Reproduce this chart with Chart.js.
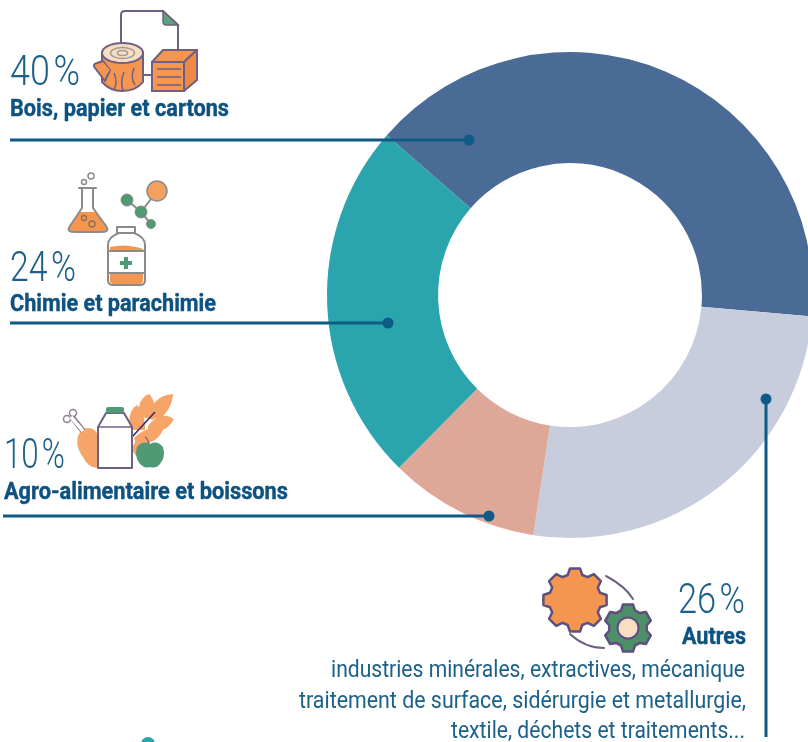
<!DOCTYPE html>
<html lang="fr">
<head>
<meta charset="utf-8">
<title>Répartition</title>
<script src="https://cdn.jsdelivr.net/npm/chart.js@4"></script>
<style>
  html, body { margin: 0; padding: 0; background: #fff; overflow: hidden; }
  #wrap { position: relative; width: 808px; height: 742px; overflow: hidden; }
  #chart { position: absolute; left: 0; top: 0; }
  #overlay { position: absolute; left: 0; top: 0; }
  .pct { font-family: Roboto, sans-serif; font-weight: 300; font-size: 42px; fill: #1c6189; word-spacing: -6px; }
  .name { font-family: Roboto, sans-serif; font-weight: 700; font-size: 23px; fill: #0e5280; stroke: #0e5280; stroke-width: 0.4px; }
  .desc { font-family: Roboto, sans-serif; font-weight: 400; font-size: 23px; fill: #1c6189; }
  .lead { stroke: #0f5a86; stroke-width: 3; fill: none; }
  .dot { fill: #0f5a86; }
  .ic { stroke: #6f5f82; stroke-width: 2; fill: none; stroke-linejoin: round; stroke-linecap: round; }
  .gr { stroke: #8b8b8b; stroke-width: 2; fill: none; stroke-linejoin: round; stroke-linecap: round; }
</style>
</head>
<body>
<div id="wrap">
  <canvas id="chart" width="820" height="742"></canvas>
  <svg id="overlay" width="808" height="742" xmlns="http://www.w3.org/2000/svg">
    <g id="labels"></g>

    <!-- leader lines -->
    <path class="lead" d="M10 140H469"/><circle class="dot" cx="469" cy="140" r="5.5"/>
    <path class="lead" d="M10 323H388"/><circle class="dot" cx="388" cy="323" r="5.5"/>
    <path class="lead" d="M3 516H489"/><circle class="dot" cx="489" cy="516" r="5.5"/>
    <path class="lead" d="M766 399V737"/><circle class="dot" cx="766" cy="399" r="5.5"/>
    <circle cx="148" cy="744" r="7" fill="#2aa5ae"/>

    <!-- bois -->
    <g>
      <path class="ic" d="M121 43V15Q121 11 125 11H163L178 25V50"/>
      <path d="M163 11L178 25H166Q163 25 163 21Z" fill="#5aa57c" stroke="#6f5f82" stroke-width="1.5"/>
      <path class="ic" d="M142 75H152"/>
      <path d="M102 53V82Q110 91 122 91Q136 91 143 82V53Z" fill="#f4964f" stroke="#6f5f82" stroke-width="2"/>
      <path d="M103 61L97 63Q92 64 95 68L105 81L110 70Z" fill="#f4964f" stroke="#6f5f82" stroke-width="2" stroke-linejoin="round"/>
      <path d="M103 62V78L110 70Z" fill="#f4964f"/>
      <ellipse cx="122.500" cy="53" rx="20.500" ry="10" fill="#f5dfc4" stroke="#6f5f82" stroke-width="2"/>
      <ellipse cx="122.500" cy="53" rx="12" ry="5.500" fill="none" stroke="#a89a92" stroke-width="1.500"/>
      <ellipse cx="122.500" cy="53" rx="5" ry="2.500" fill="none" stroke="#a89a92" stroke-width="1.500"/>
      <path d="M114 73Q118 82 114 90M124 72Q120 82 123 90M134 68Q130 78 135 85" stroke="#6f5f82" stroke-width="1.500" fill="none"/>
      <path d="M152 62L163 50H197L184 62Z" fill="#f4964f" stroke="#6f5f82" stroke-width="2" stroke-linejoin="round"/>
      <path d="M184 62L197 50V80L184 91Z" fill="#ec8a45" stroke="#6f5f82" stroke-width="2" stroke-linejoin="round"/>
      <rect x="152" y="62" width="32" height="29" fill="#f4964f" stroke="#6f5f82" stroke-width="2"/>
      <path d="M157 69H181M157 77H181M157 85H181" stroke="#6f5f82" stroke-width="1.500"/>
    </g>

    <!-- chimie -->
    <g>
      <path d="M70 226L80 212H95L107 226Q110 232 102 232H74Q66 232 70 226Z" fill="#f4964f"/>
      <path class="gr" d="M79 188H96M82 188V208L70 226Q66 232 74 232H102Q110 232 106 226L93 208V188"/>
      <circle cx="84" cy="218" r="2.500" fill="none" stroke="#8b6f5f" stroke-width="1.300"/>
      <circle cx="92" cy="224" r="3" fill="none" stroke="#8b6f5f" stroke-width="1.300"/>
      <circle cx="84" cy="182" r="2.500" class="gr" style="stroke-width:1.500"/>
      <circle cx="91" cy="176" r="3" class="gr" style="stroke-width:1.500"/>
      <path d="M127 200L141 212L157 191M141 212L151 224" stroke="#8b8b8b" stroke-width="2" fill="none"/>
      <circle cx="157" cy="191" r="10" fill="#f4a060" stroke="#8b8b8b" stroke-width="1.500"/>
      <circle cx="127" cy="200" r="6" fill="#4f9a72" stroke="#8b8b8b" stroke-width="1"/>
      <circle cx="141" cy="212" r="6" fill="#4f9a72" stroke="#8b8b8b" stroke-width="1"/>
      <circle cx="151" cy="224" r="4.500" fill="#4f9a72" stroke="#8b8b8b" stroke-width="1"/>
      <path d="M110 247Q126 243 143 249V280Q143 284 139 284H114Q110 284 110 280Z" fill="#f4964f"/>
      <rect x="108" y="251" width="36" height="22" fill="#fff"/>
      <path class="gr" d="M117 227H135V233H117ZM119 233Q108 237 108 245V280Q108 285 113 285H140Q145 285 145 280V245Q145 237 134 233M108 251H145M108 273H145"/>
      <path d="M126 257V269M120 263H132" stroke="#4f9a72" stroke-width="4"/>
    </g>

    <!-- agro -->
    <g>
      <g fill="#f6a468">
        <path d="M129 430Q128 410 137 405Q146 414 145 430Z"/>
        <path d="M138 416Q138 398 149 394Q158 404 154 420Z"/>
        <path d="M150 415Q152 396 173 394Q172 410 158 420Z"/>
        <path d="M148 426Q160 410 174 419Q166 434 148 431Z"/>
        <path d="M134 438Q148 424 163 430Q156 445 136 445Z"/>
        <path d="M132 450Q134 436 148 442L136 456Z"/>
      </g>
      <path d="M132 437L155 412" stroke="#3f3566" stroke-width="1.800"/>
      <path d="M82 429Q95 425 98 436V468Q88 468 83 457Q72 442 82 429Z" fill="#f6a468"/>
      <path d="M83 431L72 417" stroke="#8f7f8e" stroke-width="6"/>
      <circle cx="67" cy="419" r="3.500" fill="#fff" stroke="#8f7f8e" stroke-width="1.500"/>
      <circle cx="73" cy="413" r="3.500" fill="#fff" stroke="#8f7f8e" stroke-width="1.500"/>
      <path d="M83 431L71 417" stroke="#fff" stroke-width="3.500"/>
      <path d="M98 468V427L106 413H124L132 427V468Z" fill="#fff" stroke="#6f5f82" stroke-width="2" stroke-linejoin="round"/>
      <path d="M98 427H132" stroke="#6f5f82" stroke-width="1.500"/>
      <rect x="106" y="407" width="18" height="6" rx="2" fill="#4f9a72"/>
      <path d="M150 444Q143 440 137 447Q134 457 140 464Q145 469 150 467Q156 469 160 464Q166 457 163 447Q157 440 150 444Z" fill="#4f9a72"/>
      <path d="M149 444Q148 439 145 437" stroke="#6f5f82" stroke-width="1.200" fill="none"/>
    </g>

    <!-- gears -->
    <g id="gears">
      <path class="ic" d="M606 576Q625 586 633 599M570 634Q585 648 604 648"/>
    </g>
  </svg>
</div>
<script>
// values
const categories = ['Bois, papier et cartons', 'Autres', 'Agro-alimentaire et boissons', 'Chimie et parachimie'];
const shares = [40, 26, 10, 24];
const sliceColors = ['#4a6b96', '#c8cddd', '#dfa798', '#2aa5ae'];
const autresLines = ['industries minérales, extractives, mécanique', 'traitement de surface, sidérurgie et metallurgie,', 'textile, déchets et traitements...'];

new Chart(document.getElementById('chart'), {
    type: 'doughnut',
    data: {
        labels: categories,
        datasets: [{ data: shares, backgroundColor: sliceColors, borderWidth: 0 }]
    },
    options: {
        responsive: false,
        animation: false,
        rotation: -48.9,
        cutout: '54.3%',
        layout: { padding: { left: 327, right: 7, top: 52, bottom: 204 } },
        plugins: { legend: { display: false }, tooltip: { enabled: false } }
    }
});

// svg text, squeezed to the widths of the condensed original
const svgNs = 'http://www.w3.org/2000/svg';
const labels = document.getElementById('labels');
function addText(str, cls, x, y, w) {
    const t = document.createElementNS(svgNs, 'text');
    t.setAttribute('class', cls);
    t.setAttribute('x', x);
    t.setAttribute('y', y);
    t.setAttribute('textLength', w);
    t.setAttribute('lengthAdjust', 'spacingAndGlyphs');
    t.textContent = str;
    labels.appendChild(t);
}
addText(shares[0] + ' %', 'pct', 10, 85, 70);
addText(categories[0], 'name', 10, 116, 219);
addText(shares[3] + ' %', 'pct', 10, 281, 66);
addText(categories[3], 'name', 10, 311, 206);
addText(shares[2] + ' %', 'pct', 4, 468, 61);
addText(categories[2], 'name', 4, 499, 284);
addText(shares[1] + ' %', 'pct', 678, 613, 67);
addText(categories[1], 'name', 682, 644, 64);
addText(autresLines[0], 'desc', 331, 677, 414);
addText(autresLines[1], 'desc', 299, 708, 447);
addText(autresLines[2], 'desc', 451, 738, 294);

// cog wheels for the "Autres" icon
function gearPath(cx, cy, rOut, rIn, teeth) {
    const pts = [];
    const step = Math.PI * 2 / teeth;
    for (let i = 0; i < teeth; i++) {
        const a = i * step - Math.PI / 2;
        [[rIn, -0.36], [rOut, -0.2], [rOut, 0.2], [rIn, 0.36]].forEach(p => {
            const ang = a + p[1] * step;
            pts.push((cx + p[0] * Math.cos(ang)).toFixed(1) + ' ' + (cy + p[0] * Math.sin(ang)).toFixed(1));
        });
    }
    return 'M' + pts.join('L') + 'Z';
}
const gears = document.getElementById('gears');
function addGear(cx, cy, rOut, rIn, teeth, fill) {
    const p = document.createElementNS(svgNs, 'path');
    p.setAttribute('d', gearPath(cx, cy, rOut, rIn, teeth));
    p.setAttribute('fill', fill);
    p.setAttribute('stroke', '#5f4f80');
    p.setAttribute('stroke-width', '2.5');
    p.setAttribute('stroke-linejoin', 'round');
    gears.appendChild(p);
}
addGear(575, 600, 32, 26, 8, '#f4964f');
addGear(628, 628, 24, 19, 6, '#4f8f68');
const hub = document.createElementNS(svgNs, 'circle');
hub.setAttribute('cx', 628);
hub.setAttribute('cy', 628);
hub.setAttribute('r', 10.5);
hub.setAttribute('fill', '#f7e0c2');
hub.setAttribute('stroke', '#5f4f80');
hub.setAttribute('stroke-width', '2');
gears.appendChild(hub);
</script>
</body>
</html>
